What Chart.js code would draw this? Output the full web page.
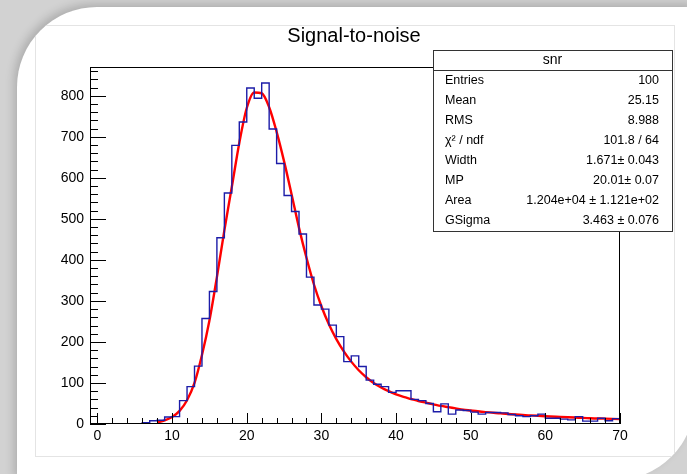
<!DOCTYPE html>
<html>
<head>
<meta charset="utf-8">
<script src="https://cdn.jsdelivr.net/npm/chart.js@4.4.0/dist/chart.umd.min.js"></script>
<style>
  html, body { margin: 0; padding: 0; }
  body { width: 687px; height: 474px; overflow: hidden; position: relative; background: #d2d2d2; }
  #card {
    position: absolute; left: 17px; top: 7px; width: 678px; height: 473px;
    background: #fff; border-top-left-radius: 80px; border-bottom-right-radius: 80px;
    box-shadow: -3px -3px 10px rgba(0,0,0,0.18); overflow: hidden;
  }
  #inner {
    position: absolute; left: 18px; top: 18px; width: 640px; height: 432px;
    border: 1px solid #e4e4e4; box-sizing: border-box;
  }
  #c { position: absolute; left: 0; top: 0; }
</style>
</head>
<body>
<div id="card"><div id="inner"></div></div>
<canvas id="c" width="687" height="474"></canvas>
<script>
'use strict';

// 히스토그램 (bin 폭 1, 0부터 시작)
const binStart = 0;
const binCounts = [
  0, 0, 0, 0, 0, 0, 3, 8, 9, 17,
  18, 57, 91, 141, 257, 323, 454, 563, 679, 736,
  819, 794, 831, 719, 635, 557, 518, 463, 358, 290,
  280, 241, 213, 152, 166, 140, 107, 97, 91, 77,
  81, 81, 60, 57, 50, 30, 49, 24, 34, 33,
  29, 24, 28, 28, 27, 23, 20, 18, 20, 24,
  14, 14, 12, 10, 18, 7, 7, 14, 8, 13
];

// 피팅 곡선
const fitX = [8, 9, 10, 11, 12, 13, 14, 15, 16, 17, 18, 19, 20, 21, 22, 23, 24, 25, 26, 27, 28, 29, 30,
  31, 32, 33, 34, 35, 36, 37, 38, 39, 40, 41, 42, 43, 44, 45, 46, 47, 48, 49, 50,
  52, 54, 56, 58, 60, 62, 64, 66, 68, 70];
const fitY = [4, 9, 17, 32, 58, 100, 168, 252, 358, 472, 578, 685, 770, 808, 806, 772, 712, 640, 560, 478, 405, 340, 287,
  243, 207, 177, 152, 131, 114, 100, 89, 80, 72, 66, 61, 56, 52, 48, 44, 41, 38, 35, 33,
  29, 26, 23, 21, 19, 17, 16, 14, 13, 12];

// 축 눈금 라벨
const xTickLabels = [0, 10, 20, 30, 40, 50, 60, 70];
const yTickLabels = [0, 100, 200, 300, 400, 500, 600, 700, 800];

// 통계 박스
const statTitle = 'snr';
const statLabels = ['Entries', 'Mean', 'RMS', 'χ² / ndf', 'Width', 'MP', 'Area', 'GSigma'];
const statValues = ['100', '25.15', '8.988', '101.8 / 64', '1.671± 0.043', '20.01± 0.07', '1.204e+04 ± 1.121e+02', '3.463 ± 0.076'];

const titleText = 'Signal-to-noise';
const FONT = '"Liberation Sans", Arial, sans-serif';

// 계단형 데이터 만들기
const histPoints = binCounts.map((v, i) => ({ x: binStart + i, y: v }));
histPoints.push({ x: binStart + binCounts.length, y: binCounts[binCounts.length - 1] });
const fitPoints = fitX.map((x, i) => ({ x: x, y: fitY[i] }));

// 프레임, 안쪽 눈금, 제목, 통계 박스
const rootPlugin = {
  id: 'rootStyle',
  afterDraw(chart) {
    const ctx = chart.ctx;
    const a = chart.chartArea;
    const xs = chart.scales.x;
    const ys = chart.scales.y;
    ctx.save();

    // 프레임
    ctx.strokeStyle = '#000';
    ctx.lineWidth = 1;
    ctx.strokeRect(a.left + 0.5, a.top + 0.5, a.right - a.left - 1, a.bottom - a.top - 1);

    // x 눈금 (위로)
    ctx.beginPath();
    for (let v = 0; v <= 70; v += 2) {
      const px = Math.round(xs.getPixelForValue(v)) + 0.5;
      const len = v % 10 === 0 ? 11 : 6;
      ctx.moveTo(px, a.bottom);
      ctx.lineTo(px, a.bottom - len);
    }
    // y 눈금 (오른쪽으로)
    for (let v = 0; v <= 860; v += 20) {
      const py = Math.round(ys.getPixelForValue(v)) + 0.5;
      const len = v % 100 === 0 ? 16 : 8;
      ctx.moveTo(a.left, py);
      ctx.lineTo(a.left + len, py);
    }
    ctx.stroke();

    // 제목
    ctx.fillStyle = '#000';
    ctx.font = '20px ' + FONT;
    ctx.textAlign = 'center';
    ctx.textBaseline = 'middle';
    ctx.fillText(titleText, 354, 36);

    // 통계 박스
    const bx = 433, by = 50, bw = 239, bh = 181;
    ctx.fillStyle = '#fff';
    ctx.fillRect(bx, by, bw, bh);
    ctx.strokeStyle = '#333';
    ctx.strokeRect(bx + 0.5, by + 0.5, bw, bh);
    ctx.beginPath();
    ctx.moveTo(bx, by + 20.5);
    ctx.lineTo(bx + bw, by + 20.5);
    ctx.stroke();

    ctx.fillStyle = '#000';
    ctx.font = '14px ' + FONT;
    ctx.textAlign = 'center';
    ctx.fillText(statTitle, bx + bw / 2, by + 10);

    ctx.font = '12.5px ' + FONT;
    statLabels.forEach((lab, i) => {
      const ty = 81 + i * 19.9;
      ctx.textAlign = 'left';
      ctx.fillText(lab, 445, ty);
      ctx.textAlign = 'right';
      ctx.fillText(statValues[i], 659, ty);
    });
    ctx.restore();
  }
};

const config = {
  type: 'line',
  data: {
    datasets: [{
      label: 'snr',
      data: histPoints,
      stepped: 'before',
      borderColor: '#1c1ca8',
      borderWidth: 1.4,
      pointRadius: 0,
      fill: false
    }, {
      label: 'fit',
      data: fitPoints,
      borderColor: '#ff0000',
      borderWidth: 2.4,
      pointRadius: 0,
      cubicInterpolationMode: 'monotone',
      fill: false
    }]
  },
  options: {
    responsive: false,
    animation: false,
    devicePixelRatio: 1,
    layout: { padding: { left: 30, right: 67, top: 67, bottom: 20 } },
    plugins: { legend: { display: false }, title: { display: false }, tooltip: { enabled: false } },
    scales: {
      x: {
        type: 'linear',
        min: -1,
        max: 70,
        grid: { display: false, drawTicks: false },
        border: { display: false },
        afterBuildTicks: s => { s.ticks = xTickLabels.map(v => ({ value: v })); },
        ticks: {
          padding: 4,
          color: '#000',
          font: { family: FONT, size: 14 },
          maxRotation: 0,
          autoSkip: false
        },
        afterFit: s => { s.height = 30; }
      },
      y: {
        type: 'linear',
        min: 0,
        max: 870,
        grid: { display: false, drawTicks: false },
        border: { display: false },
        afterBuildTicks: s => { s.ticks = yTickLabels.map(v => ({ value: v })); },
        ticks: {
          padding: 6,
          color: '#000',
          font: { family: FONT, size: 14 },
          autoSkip: false
        },
        afterFit: s => { s.width = 60; }
      }
    }
  },
  plugins: [rootPlugin]
};

new Chart(document.getElementById('c'), config);
</script>
</body>
</html>
